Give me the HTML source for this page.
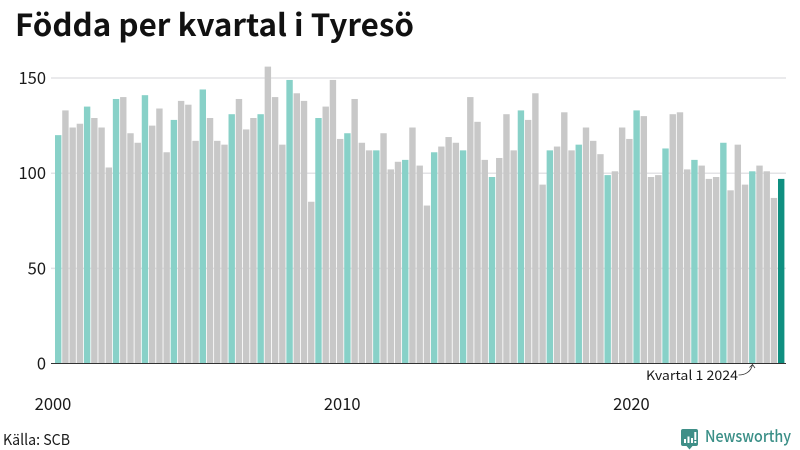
<!DOCTYPE html>
<html lang="sv">
<head>
<meta charset="utf-8">
<title>Födda per kvartal i Tyresö</title>
<style>
html,body{margin:0;padding:0;background:#fff;width:800px;height:450px;overflow:hidden}
svg{display:block}
text{font-family:"Noto Sans CJK JP","Liberation Sans",sans-serif;fill:#1a1a1a}
</style>
</head>
<body>
<svg id="chart" width="800" height="450" viewBox="0 0 800 450" xmlns="http://www.w3.org/2000/svg">
  <text x="15" y="36" font-size="30.5" font-weight="700" textLength="399" lengthAdjust="spacingAndGlyphs" style="fill:#111">Födda per kvartal i Tyresö</text>
  <g id="grid"></g>
  <g id="bars"></g>
  <g id="yticks"></g>
  <g id="xticks"></g>
  <line x1="51" x2="786" y1="363.5" y2="363.5" stroke="#333" stroke-width="1"></line>
  <text x="646" y="380" font-size="13" textLength="92" lengthAdjust="spacingAndGlyphs">Kvartal 1 2024</text>
  <path d="M738.5 375 C745 375 751 372 752.5 364.5 M749.5 367.5 L752.5 364.5 L755 368" fill="none" stroke="#333" stroke-width="0.8"></path>
  <text x="3" y="445" font-size="15" textLength="67" lengthAdjust="spacingAndGlyphs">Källa: SCB</text>
  <g>
    <path d="M683 429 H696 Q698 429 698 431 V444 Q698 446 696 446 H692.5 L689.5 449.5 L686.5 446 H683 Q681 446 681 444 V431 Q681 429 683 429 Z" fill="#3f8f88"></path>
    <rect x="684" y="439" width="2" height="4" fill="#fff"></rect>
    <rect x="687.5" y="436.5" width="2" height="6.5" fill="#fff"></rect>
    <rect x="691" y="438" width="2" height="5" fill="#fff"></rect>
    <rect x="694.3" y="432" width="2" height="8" fill="#fff"></rect>
    <rect x="694.3" y="441" width="2" height="2" fill="#fff"></rect>
    <text x="705" y="442" font-size="16.5" font-weight="500" textLength="86" lengthAdjust="spacingAndGlyphs" style="fill:#3a8f87">Newsworthy</text>
  </g>
</svg>
<script>
const quarterCounts = [
  120,133,124,126, 135,129,124,103, 139,140,121,116, 141,125,134,111,
  128,138,136,117, 144,129,117,115, 131,139,123,129, 131,156,140,115,
  149,142,138,85,  129,135,149,118, 121,139,116,112, 112,121,102,106,
  107,124,104,83,  111,114,119,116, 112,140,127,107, 98,108,131,112,
  133,128,142,94,  112,114,132,112, 115,124,117,110, 99,101,124,118,
  133,130,98,99,   113,131,132,102, 107,104,97,98,   116,91,115,94,
  101,104,101,87,  97
];
const startYear = 2000;
const yTicks = [0, 50, 100, 150];
const gridTicks = [50, 100, 150];
const xTickYears = [2000, 2010, 2020];

const SVG_NS = 'http://www.w3.org/2000/svg';
function xScale(i) { return 55 + i * 7.23; }
function yScale(v) { return 363.5 - v * 1.903; }
function yearIndex(y) { return (y - startYear) * 4; }

const gridGroup = document.getElementById('grid');
gridTicks.forEach(function (t) {
  const l = document.createElementNS(SVG_NS, 'line');
  
  
  l.setAttribute('x1', 51);
  l.setAttribute('x2', 786);
  l.setAttribute('y1', yScale(t));
  l.setAttribute('y2', yScale(t));
  l.setAttribute('stroke', '#e3e3e6');
  l.setAttribute('stroke-width', '1.5');
  gridGroup.appendChild(l);
});

const barGroup = document.getElementById('bars');
quarterCounts.forEach(function (v, i) {
  const r = document.createElementNS(SVG_NS, 'rect');
  
  
  r.setAttribute('x', xScale(i));
  r.setAttribute('y', yScale(v));
  r.setAttribute('width', 6.4);
  r.setAttribute('height', yScale(0) - yScale(v));
  const isLast = i === quarterCounts.length - 1;
  const isFirstQuarter = i % 4 === 0;
  r.setAttribute('fill', isLast ? '#0f8f80' : (isFirstQuarter ? '#88d1c8' : '#c8c8c8'));
  barGroup.appendChild(r);
});

const yGroup = document.getElementById('yticks');
yTicks.forEach(function (t) {
  const s = document.createElementNS(SVG_NS, 'text');
  
  
  s.setAttribute('x', 46);
  s.setAttribute('y', yScale(t) + 6);
  s.setAttribute('text-anchor', 'end');
  s.setAttribute('font-size', '16.5');
  s.textContent = t;
  yGroup.appendChild(s);
});

const xGroup = document.getElementById('xticks');
xTickYears.forEach(function (y) {
  const s = document.createElementNS(SVG_NS, 'text');
  
  
  s.setAttribute('x', xScale(yearIndex(y)) - 2);
  s.setAttribute('y', 410);
  s.setAttribute('text-anchor', 'middle');
  s.setAttribute('font-size', '16.5');
  s.textContent = y;
  xGroup.appendChild(s);
});
</script>
</body>
</html>
